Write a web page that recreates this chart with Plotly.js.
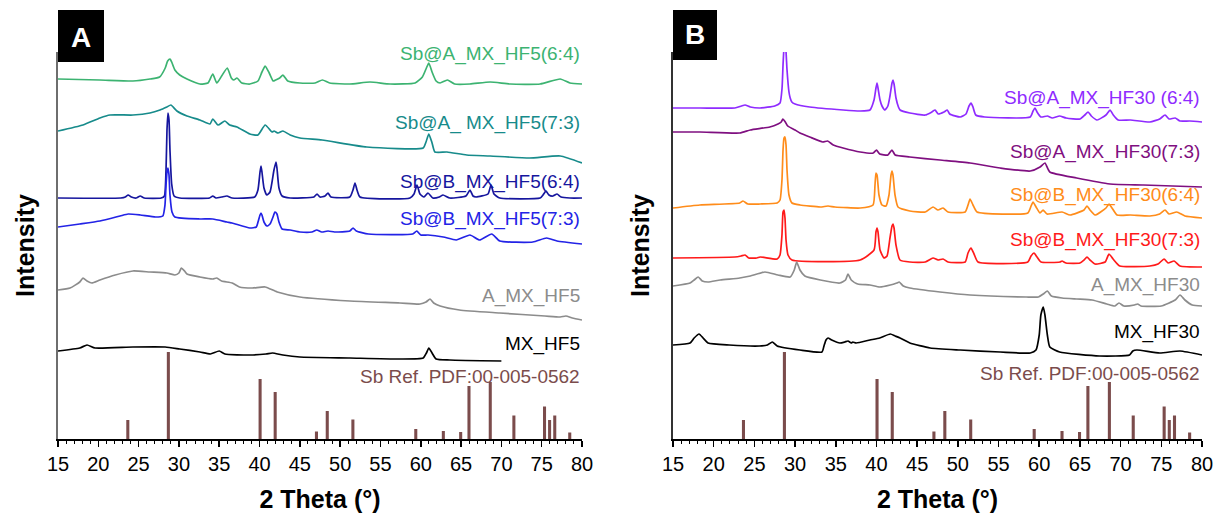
<!DOCTYPE html>
<html>
<head>
<meta charset="utf-8">
<script src="https://cdn.plot.ly/plotly-3.0.1.min.js"></script>
<style>html,body{margin:0;padding:0;background:#fff;}#chart{width:1217px;height:517px;}</style>
</head>
<body>
<div id="chart"></div>
<script>
// ---------- DATA (2θ in degrees, intensity in arbitrary stacked units) ----------
// Panel A
const sbA_HF5_64 = [[15,360],[20.2,359],[24.3,358],[26.4,360],[27.6,362],[28.3,371],[28.6,378],[28.9,380],[29.1,377],[29.5,369],[30.1,364],[31.0,360],[32.6,355],[33.6,356],[34.2,365],[34.7,356],[35.3,363],[36.0,371],[36.5,361],[36.8,359],[37.2,361],[37.8,356],[38.8,355],[39.8,358],[40.3,367],[40.7,373],[41.2,366],[41.7,358],[42.0,359],[42.5,361],[42.9,364],[43.5,358],[45.0,356],[46.9,356],[47.8,359],[48.7,356],[51.2,355],[53.7,357],[56.2,355],[59.3,356],[60.2,362],[60.7,371],[61.0,376],[61.4,367],[61.9,358],[62.4,356],[63.3,359],[64.2,355],[66.1,355],[68.6,357],[71.1,355],[74.8,355],[77.3,360],[78.5,356],[80,355]];
const sbA_HF5_73 = [[15,308],[18.1,314],[20.2,321],[21.45,324],[24.3,324],[26.4,326],[27.65,329],[28.5,332],[29.0,334],[29.75,328],[31.0,323],[32.6,319],[33.85,315],[34.2,320],[34.85,314],[35.7,318],[36.3,314],[37.2,312],[38.8,305],[39.8,304],[40.7,314],[41.55,307],[41.8,308],[42.3,306],[42.9,308],[43.8,304],[45.0,301],[47.75,299],[53.3,292],[60.3,291],[60.65,297],[61.0,305],[61.4,296],[61.75,287],[63.25,287],[65.7,284],[68.6,283],[73.5,281],[77.3,283],[80,276]];
const sbB_HF5_64 = [[15,241],[22.8,241],[23.35,242],[23.7,244],[24.1,242],[24.7,241],[25.2,243],[25.7,241],[27.8,241],[28.2,243],[28.4,269],[28.52,309],[28.64,326],[28.77,319],[28.89,289],[29.1,255],[29.4,243],[30.1,241],[33.8,241],[34.2,243],[34.6,241],[35.3,242],[35.96,243],[36.6,241],[39.4,242],[39.8,249],[40.06,267],[40.18,273],[40.3,267],[40.55,251],[40.9,244],[41.3,247],[41.79,269],[42.04,277],[42.16,271],[42.41,251],[42.8,243],[43.8,241],[46.75,242],[47.13,245],[47.5,242],[48.12,243],[48.49,246],[48.86,242],[51.2,242],[51.59,249],[51.84,256],[52.09,249],[52.46,242],[58.66,241],[59.16,245],[59.53,254],[59.9,245],[60.4,242],[60.89,246],[61.5,241],[62.3,242],[62.76,244],[63.6,241],[65.6,243],[66.1,249],[66.48,243],[66.85,242],[68.34,245],[68.71,254],[69.08,245],[69.8,241],[74.8,241],[75.16,244],[75.53,248],[75.9,244],[76.4,243],[76.9,245],[77.4,242],[78.5,241],[80,241]];
const sbB_HF5_73 = [[15,212],[17.7,215],[20.2,218],[22.7,223],[23.7,225],[25.2,224],[27.1,222],[28.0,223],[28.27,234],[28.4,254],[28.52,267],[28.64,271],[28.77,264],[28.89,244],[29.14,227],[29.5,222],[32.6,220],[34.2,220],[35.96,217],[36.6,216],[38.8,211],[39.6,212],[39.81,217],[40.06,224],[40.18,226],[40.3,224],[40.55,217],[40.92,213],[41.3,215],[41.67,222],[41.91,227],[42.16,225],[42.41,217],[42.8,210],[43.8,209],[45.0,207],[46.5,207],[47.1,209],[47.7,207],[48.5,208],[49.3,207],[51.2,208],[51.6,211],[52.0,208],[53.5,205],[59.0,205],[59.5,208],[60.0,204],[60.9,204],[62.8,202],[64.4,199],[66.1,204],[67.3,199],[68.8,205],[69.8,198],[73.9,197],[75.6,201],[76.9,198],[80,195]];
const a_HF5 = [[15,149],[16.5,151],[17.7,157],[18.1,161],[18.6,158],[19.2,156],[20.2,159],[22.1,164],[24.3,168],[26.4,167],[28.5,166],[29.5,164],[30.0,166],[30.3,171],[30.7,168],[31.0,165],[32.6,162],[34.2,160],[34.7,161],[35.3,158],[36.6,156],[37.5,152],[39.1,151],[40.7,152],[42.2,147],[45.0,142],[51.2,138],[57.4,136],[59.9,135],[60.65,137],[61.15,140],[61.6,136],[62.4,133],[64.8,129],[69.8,126],[75.4,123],[77.3,122],[78.0,123],[78.8,121],[80,119]];
const mx_HF5 = [[15,88],[17.7,91],[18.6,94],[19.6,91],[24.3,92],[28.3,92],[30.1,90],[32.6,87],[33.9,85],[35.0,88],[35.7,85],[38.8,84],[40.8,85],[41.6,86],[42.9,84],[45.0,82],[51.2,81],[57.4,80],[60.3,81],[60.7,86],[61.0,91],[61.4,86],[61.9,80],[63.6,79],[70.0,78]];

// Panel B
const sbA_HF30_64 = [[15,331],[18.3,331],[22.6,331],[23.4,333],[23.85,334],[24.5,332],[25.7,331],[27.5,333],[28.15,336],[28.4,351],[28.52,374],[28.64,391],[28.76,397],[28.89,387],[29.01,369],[29.25,347],[29.4,341],[29.6,337],[30.0,335],[31.8,332],[35.9,329],[38.0,328],[39.2,329],[39.7,339],[39.94,351],[40.07,356],[40.19,351],[40.44,339],[40.68,333],[41.05,329],[41.4,333],[41.66,343],[41.91,356],[42.03,359],[42.16,355],[42.4,341],[42.7,332],[42.9,329],[44.1,326],[46.0,324],[46.8,327],[47.2,329],[47.6,325],[48.3,327],[48.7,329],[49.0,325],[50.3,322],[51.0,325],[51.37,333],[51.62,336],[51.86,332],[52.2,324],[53.3,322],[58.9,322],[59.24,328],[59.48,331],[59.73,327],[60.2,322],[61.0,323],[61.6,321],[62.5,323],[63.3,321],[65.0,320],[65.6,324],[66.0,327],[66.4,323],[67.1,319],[68.2,324],[68.7,329],[69.1,324],[69.7,319],[71.2,319],[73.6,317],[74.8,320],[75.46,324],[75.95,320],[76.7,321],[77.3,318],[78.5,318],[80,317]];
const sbA_HF30_73 = [[15,307],[18.3,307],[23.2,306],[24.5,309],[26.9,312],[27.9,315],[28.3,317],[28.5,320],[28.8,317],[29.1,313],[30.0,309],[30.6,306],[31.8,302],[33.4,297],[34.0,298],[34.7,294],[35.9,291],[38.0,287],[39.6,286],[40.0,289],[40.4,285],[41.4,284],[41.9,289],[42.3,284],[44.1,282],[47.8,279],[51.5,276],[55.2,271],[58.9,268],[60.1,272],[60.7,276],[61.3,267],[64.6,261],[68.7,255],[72.8,254],[80,252]];
const sbB_HF30_64 = [[15,231],[18.3,234],[23.2,236],[23.6,238],[24.2,235],[25.7,235],[27.8,236],[28.15,239],[28.39,259],[28.52,289],[28.64,301],[28.76,302],[28.89,294],[29.01,269],[29.25,244],[29.62,236],[30.6,234],[33.1,232],[34.05,233],[34.9,232],[38.0,231],[39.58,234],[39.82,254],[39.94,266],[40.07,264],[40.31,244],[40.68,234],[41.17,233],[41.54,244],[41.79,264],[41.91,268],[42.03,264],[42.28,244],[42.65,232],[44.1,228],[46.0,227],[46.95,232],[47.56,229],[48.18,231],[48.79,227],[50.9,227],[51.25,234],[51.5,240],[51.86,234],[52.36,227],[58.6,226],[59.0,233],[59.24,237],[59.61,232],[60.1,226],[60.47,229],[60.96,225],[62.8,227],[63.8,224],[65.5,229],[65.87,233],[66.24,229],[66.86,224],[68.2,231],[68.57,235],[68.94,231],[69.56,224],[71.2,224],[73.6,223],[74.8,225],[75.46,229],[75.95,225],[76.9,227],[77.9,223],[80,221]];
const sbB_HF30_73 = [[15,181],[22.6,182],[23.36,183],[23.85,184],[24.3,181],[25.3,181],[25.7,182],[27.8,180],[28.15,184],[28.39,204],[28.52,227],[28.64,229],[28.76,221],[28.89,199],[29.13,184],[29.62,179],[38.0,179],[39.7,189],[39.94,207],[40.07,211],[40.19,207],[40.44,189],[40.93,181],[41.3,183],[41.66,201],[41.91,213],[42.03,215],[42.16,211],[42.4,194],[42.89,179],[44.1,177],[46.0,177],[46.95,181],[47.56,179],[48.18,180],[48.79,177],[50.9,177],[51.25,186],[51.62,191],[51.99,185],[52.48,177],[58.6,177],[58.99,183],[59.36,186],[59.73,182],[60.22,177],[62.55,177],[62.8,178],[63.29,176],[65.0,176],[65.5,179],[65.87,182],[66.24,179],[66.86,175],[68.1,177],[68.57,185],[69.07,180],[69.9,173],[73.6,173],[74.6,175],[75.34,180],[75.83,176],[76.57,178],[77.3,173],[80,172]];
const a_HF30 = [[15,153],[17.1,156],[17.6,159],[18.1,162],[18.6,158],[19.3,157],[20.8,159],[23.2,161],[24.5,163],[26.3,167],[27.9,164],[29.4,162],[29.9,169],[30.2,177],[30.6,169],[31.2,163],[33.1,159],[35.5,156],[36.2,159],[36.5,165],[36.9,159],[37.7,155],[39.2,154],[40.4,152],[41.7,154],[42.5,156],[42.8,157],[43.3,153],[44.1,151],[47.8,147],[51.5,144],[58.4,142],[59.9,142],[60.5,145],[61.0,148],[61.5,143],[62.8,141],[64.6,140],[66.5,139],[68.3,135],[69.3,133],[69.8,136],[70.4,133],[71.7,134],[72.1,135],[72.5,133],[75.0,133],[76.7,139],[77.3,144],[77.9,139],[78.8,134],[80,133]];
const mx_HF30 = [[15,94],[17.1,96],[17.6,101],[18.2,105],[18.7,101],[19.3,96],[21.9,94],[25.6,93],[26.6,94],[27.2,97],[27.8,93],[30.6,89],[33.3,87],[33.55,93],[33.8,99],[34.05,101],[34.5,99],[35.5,96],[36.1,97],[36.5,98],[36.9,96],[37.1,97],[37.5,96],[39.2,99],[40.4,101],[41.7,105],[42.3,103],[42.9,101],[44.1,96],[46.6,91],[50.3,89],[55.2,87],[58.9,86],[59.6,89],[60.0,104],[60.2,124],[60.5,132],[60.7,124],[61.0,104],[61.3,92],[62.5,87],[67.4,83],[71.1,84],[71.5,88],[72.0,89],[74.8,86],[77.3,88],[80,84]];

// Sb reference pattern (PDF 00-005-0562): positions and stick heights
const refTheta  = [23.66, 28.69, 40.07, 41.94, 47.06, 48.40, 51.58, 59.38, 62.80, 64.95, 65.98, 68.62, 71.55, 75.35, 75.98, 76.62, 78.48];
const refHeight = [19, 87, 60, 47, 7.5, 28, 19.5, 10, 8, 7, 53, 57, 23.5, 32.5, 19, 23.5, 6.5];

const labelsA = ['Sb@A_MX_HF5(6:4)', 'Sb@A_ MX_HF5(7:3)', 'Sb@B_MX_HF5(6:4)', 'Sb@B_MX_HF5(7:3)', 'A_MX_HF5', 'MX_HF5'];
const labelsB = ['Sb@A_MX_HF30 (6:4)', 'Sb@A_MX_HF30(7:3)', 'Sb@B_MX_HF30(6:4)', 'Sb@B_MX_HF30(7:3)', 'A_MX_HF30', 'MX_HF30'];
const refLabel = 'Sb Ref. PDF:00-005-0562';
const xTicks = [15, 20, 25, 30, 35, 40, 45, 50, 55, 60, 65, 70, 75, 80];

// ---------- STYLE ----------
const FONT = 'Liberation Sans, Arial, Helvetica, sans-serif';
const colorsA = ['#3cb371', '#178b8b', '#16169e', '#2323e6', '#8c8c8c', '#000000'];
const colorsB = ['#8f2bff', '#7f0f80', '#ff8c1a', '#ff1a1a', '#8c8c8c', '#000000'];
const refColor = '#7b4c4c';
const seriesA = [sbA_HF5_64, sbA_HF5_73, sbB_HF5_64, sbB_HF5_73, a_HF5, mx_HF5];
const seriesB = [sbA_HF30_64, sbA_HF30_73, sbB_HF30_64, sbB_HF30_73, a_HF30, mx_HF30];
const labelYA = [385, 316, 257, 220, 143, 95];
const labelYB = [341, 287, 244, 199, 154, 107];

const traces = [];
function addPanel(series, colors, names, xa, ya) {
  series.forEach((s, i) => {
    traces.push({
      type: 'scatter', mode: 'lines', name: names[i],
      x: s.map(p => p[0]), y: s.map(p => p[1]),
      xaxis: xa, yaxis: ya,
      line: {color: colors[i], width: 1.7, shape: 'spline', smoothing: 0.5},
      hoverinfo: 'skip'
    });
  });
  traces.push({
    type: 'bar', name: refLabel, x: refTheta, y: refHeight,
    xaxis: xa, yaxis: ya, width: 0.38,
    marker: {color: refColor, line: {width: 0}}, hoverinfo: 'skip'
  });
}
addPanel(seriesA, colorsA, labelsA, 'x', 'y');
addPanel(seriesB, colorsB, labelsB, 'x2', 'y2');

function xAxis(domain, anchor) {
  return {
    domain: domain, anchor: anchor, range: [15, 80], autorange: false,
    tickmode: 'array', tickvals: xTicks, ticktext: xTicks.map(String),
    showline: true, linecolor: '#000', linewidth: 2, mirror: false,
    ticks: 'outside', ticklen: 6, tickwidth: 1.5, tickcolor: '#000',
    tickfont: {family: FONT, size: 20, color: '#000'},
    minor: {dtick: 1, tick0: 15, ticks: 'outside', ticklen: 3, tickwidth: 1, tickcolor: '#000', showgrid: false},
    showgrid: false, zeroline: false, fixedrange: true,
    title: {text: '2 Theta (°)', font: {family: FONT, size: 25, color: '#000', weight: 'bold'}, standoff: 16}
  };
}
function yAxis(anchor, lineColor) {
  return {
    domain: [78 / 517, 465 / 517], anchor: anchor, range: [0, 387], autorange: false,
    showline: true, linecolor: lineColor, linewidth: 2,
    ticks: '', showticklabels: false, showgrid: false, zeroline: false, fixedrange: true,
    title: {text: 'Intensity', font: {family: FONT, size: 25, color: '#000', weight: 'bold'}, standoff: 14}
  };
}

const annotations = [];
function addLabels(names, colors, ys, xref, yref) {
  names.forEach((t, i) => annotations.push({
    text: t, x: 80, y: ys[i], xref: xref, yref: yref, xanchor: 'right', yanchor: 'middle',
    showarrow: false, font: {family: FONT, size: 19, color: colors[i]}
  }));
}
addLabels(labelsA, colorsA, labelYA, 'x', 'y');
addLabels(labelsB, colorsB, labelYB, 'x2', 'y2');
annotations.push({text: refLabel, x: 80, y: 63, xref: 'x', yref: 'y', xanchor: 'right', yanchor: 'middle', showarrow: false, font: {family: FONT, size: 19, color: refColor}});
annotations.push({text: refLabel, x: 80, y: 66, xref: 'x2', yref: 'y2', xanchor: 'right', yanchor: 'middle', showarrow: false, font: {family: FONT, size: 19, color: refColor}});
annotations.push({text: 'A', x: 81 / 1217, y: (517 - 37) / 517, xref: 'paper', yref: 'paper', xanchor: 'center', yanchor: 'middle', showarrow: false, font: {family: FONT, size: 28, color: '#fff', weight: 'bold'}});
annotations.push({text: 'B', x: 695 / 1217, y: (517 - 35) / 517, xref: 'paper', yref: 'paper', xanchor: 'center', yanchor: 'middle', showarrow: false, font: {family: FONT, size: 28, color: '#fff', weight: 'bold'}});

const shapes = [
  {type: 'rect', xref: 'paper', yref: 'paper', x0: 58 / 1217, x1: 104 / 1217, y0: (517 - 62) / 517, y1: (517 - 10) / 517, fillcolor: '#000', line: {width: 0}, layer: 'above'},
  {type: 'rect', xref: 'paper', yref: 'paper', x0: 673 / 1217, x1: 717 / 1217, y0: (517 - 60) / 517, y1: (517 - 10) / 517, fillcolor: '#000', line: {width: 0}, layer: 'above'}
];

const layout = {
  width: 1217, height: 517,
  margin: {l: 0, r: 0, t: 0, b: 0, pad: 0},
  paper_bgcolor: '#fff', plot_bgcolor: '#fff',
  showlegend: false, hovermode: false, barmode: 'overlay',
  font: {family: FONT, color: '#000'},
  xaxis: xAxis([58 / 1217, 582 / 1217], 'y'),
  yaxis: yAxis('x', '#6e6e6e'),
  xaxis2: xAxis([673 / 1217, 1202 / 1217], 'y2'),
  yaxis2: yAxis('x2', '#333333'),
  annotations: annotations,
  shapes: shapes
};

Plotly.newPlot('chart', traces, layout, {displayModeBar: false, staticPlot: true});
</script>
</body>
</html>
